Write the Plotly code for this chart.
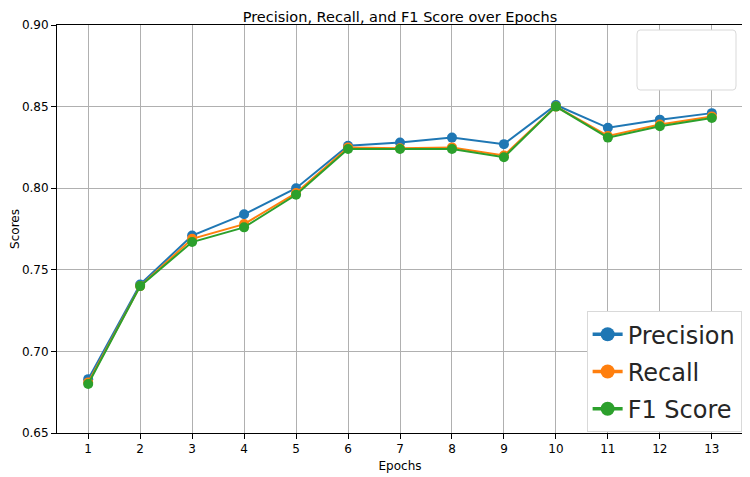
import plotly.graph_objects as go

# Datos por época
epochs = list(range(1, 14))
precision = [0.683, 0.741, 0.771, 0.784, 0.800, 0.826, 0.828, 0.831, 0.827, 0.851, 0.837, 0.842, 0.846]
recall = [0.681, 0.740, 0.769, 0.778, 0.797, 0.825, 0.8245, 0.825, 0.820, 0.850, 0.832, 0.839, 0.844]
f1_score = [0.680, 0.740, 0.767, 0.776, 0.796, 0.824, 0.824, 0.824, 0.819, 0.850, 0.831, 0.838, 0.843]
y_ticks = [0.65, 0.70, 0.75, 0.80, 0.85, 0.90]

FONT = 'DejaVu Sans, sans-serif'

# La página tiene un margen de 8px en el body, se compensa aquí
W, H = 742, 469

fig = go.Figure()

series = [('Precision', precision, '#1f77b4'),
          ('Recall', recall, '#ff7f0e'),
          ('F1 Score', f1_score, '#2ca02c')]
for name, vals, color in series:
    fig.add_trace(go.Scatter(
        x = epochs, y = vals, mode = 'lines+markers', name = name,
        line = dict(color = color, width = 2),
        marker = dict(color = color, size = 10),
        showlegend = False)
    )
# Entradas de leyenda (más grandes, como en la imagen)
for name, vals, color in series:
    fig.add_trace(go.Scatter(
        x = [None], y = [None], mode = 'lines+markers', name = name,
        legendgroup = name,
        line = dict(color = color, width = 3.5),
        marker = dict(color = color, size = 14))
    )

# Caja de leyenda vacía (arriba a la derecha)
fig.add_shape(type = 'path', xref = 'paper', yref = 'paper',
              path = 'M 0.8500,0.9877 L 0.9854,0.9877 Q 0.9898,0.9877 0.9898,0.9780 '
                     'L 0.9898,0.8505 Q 0.9898,0.8407 0.9854,0.8407 L 0.8500,0.8407 '
                     'Q 0.8455,0.8407 0.8455,0.8505 L 0.8455,0.9780 Q 0.8455,0.9877 0.8500,0.9877 Z',
              line = dict(color = '#d9d9d9', width = 1), fillcolor = 'white', layer = 'above')

axis_common = dict(
    showgrid = True, gridcolor = '#b0b0b0', gridwidth = 1,
    showline = True, linecolor = 'black', linewidth = 1, mirror = True,
    ticks = 'outside', ticklen = 5, tickcolor = 'black',
    tickfont = dict(size = 12, color = 'black', family = FONT),
    zeroline = False, automargin = False)

fig.update_layout(
    width = W, height = H,
    margin = dict(l = 49, r = 7, t = 17, b = 44, autoexpand = False),
    paper_bgcolor = 'white', plot_bgcolor = 'white',
    font = dict(family = FONT, color = 'black'),
    title = dict(text = 'Precision, Recall, and F1 Score over Epochs',
                 x = 0.5, xref = 'paper', xanchor = 'center',
                 y = 1 - 8.5 / H, yanchor = 'middle', automargin = False,
                 font = dict(size = 14.5, family = FONT, color = 'black')),
    xaxis = dict(axis_common, range = [0.4, 13.6], tickmode = 'array', tickvals = epochs,
                 title = dict(text = 'Epochs', font = dict(size = 12, family = FONT), standoff = 6)),
    yaxis = dict(axis_common, range = [0.65, 0.90], tickvals = y_ticks,
                 tickformat = '.2f',
                 title = dict(text = 'Scores', font = dict(size = 12, family = FONT), standoff = 5)),
    legend = dict(x = 0.998, y = 0.002, xanchor = 'right', yanchor = 'bottom',
                  bgcolor = 'white', bordercolor = '#d9d9d9', borderwidth = 1,
                  font = dict(size = 24, family = FONT, color = '#262626'),
                  itemsizing = 'trace', tracegroupgap = 3),
)

fig.write_html('out.html')
